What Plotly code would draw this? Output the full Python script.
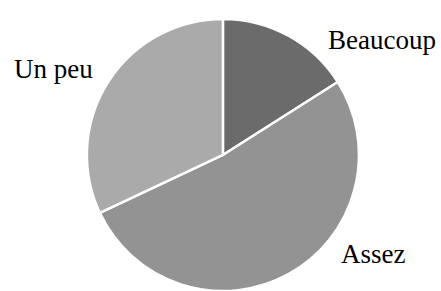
import plotly.graph_objects as go

labels = ["Beaucoup", "Assez", "Un peu"]
values = [16, 52, 32]
colors = ["#6b6b6b", "#939393", "#aaaaaa"]

fig = go.Figure(go.Pie(
    labels=labels, values=values, sort=False, direction="clockwise", rotation=0,
    marker=dict(colors=colors, line=dict(color="white", width=2.5)),
    textinfo="none",
    domain=dict(x=[0.197, 0.814], y=[0.0, 0.935]),
    showlegend=False, hoverinfo="skip",
))

label_pos = {"Beaucoup": (0.866, 0.862), "Assez": (0.846, 0.127), "Un peu": (0.122, 0.763)}
for lab in labels:
    x, y = label_pos[lab]
    fig.add_annotation(text=lab, x=x, y=y, xref="paper", yref="paper",
                       xanchor="center", yanchor="middle", showarrow=False,
                       font=dict(family="Liberation Serif", size=27, color="black"))

fig.update_layout(width=441, height=291, margin=dict(l=0, r=0, t=0, b=0),
                  paper_bgcolor="white", plot_bgcolor="white")
fig.write_html("out.html", config={"displayModeBar": False},
               post_script="document.body.style.margin='0';document.body.style.overflow='hidden';")
